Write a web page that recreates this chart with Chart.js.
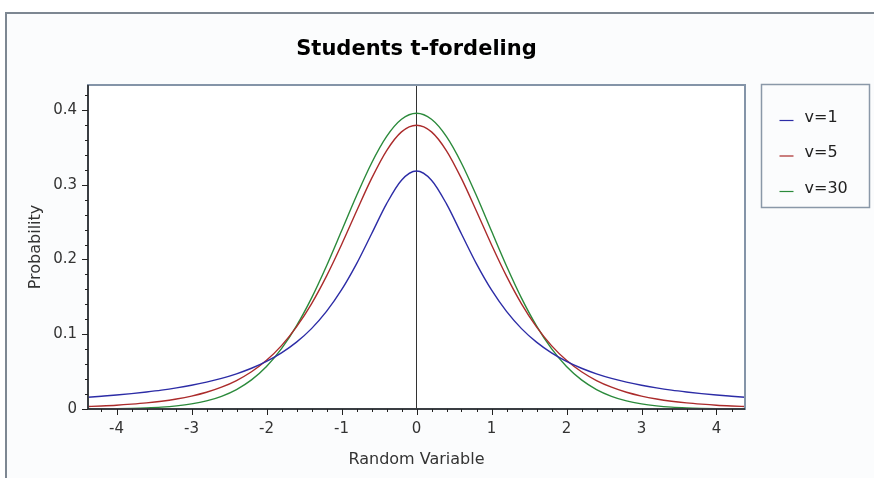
<!DOCTYPE html>
<html>
<head>
<meta charset="utf-8">
<script src="https://cdn.jsdelivr.net/npm/chart.js@4"></script>
<style>
  html, body { margin: 0; padding: 0; background: #fff; }
  #frame { position: absolute; left: 5px; top: 12px; width: 869px; height: 466px; box-sizing: border-box;
           border-top: 2px solid #7d8792; border-left: 2px solid #7d8792; background: #fbfcfd; }
  #chart { position: absolute; left: 0; top: 0; }
</style>
</head>
<body>
<div id="frame"></div>
<canvas id="chart" width="874" height="478"></canvas>
<script>
// values
const xValues = [-4.4, -4.2, -4.0, -3.8, -3.6, -3.4, -3.2, -3.0, -2.8, -2.6, -2.4, -2.2, -2.0, -1.8, -1.6, -1.4, -1.2, -1.0, -0.8, -0.6, -0.4, -0.2, 0,
                 0.2, 0.4, 0.6, 0.8, 1.0, 1.2, 1.4, 1.6, 1.8, 2.0, 2.2, 2.4, 2.6, 2.8, 3.0, 3.2, 3.4, 3.6, 3.8, 4.0, 4.2, 4.4];
const v1 = [0.0156, 0.0171, 0.0187, 0.0206, 0.0228, 0.0253, 0.0283, 0.0318, 0.0360, 0.0410, 0.0471, 0.0545, 0.0637, 0.0751, 0.0894, 0.1075, 0.1305, 0.1592, 0.1941, 0.2341, 0.2744, 0.3061, 0.3183,
            0.3061, 0.2744, 0.2341, 0.1941, 0.1592, 0.1305, 0.1075, 0.0894, 0.0751, 0.0637, 0.0545, 0.0471, 0.0410, 0.0360, 0.0318, 0.0283, 0.0253, 0.0228, 0.0206, 0.0187, 0.0171, 0.0156];
const v5 = [0.0033, 0.0041, 0.0051, 0.0065, 0.0082, 0.0104, 0.0134, 0.0173, 0.0224, 0.0292, 0.0381, 0.0498, 0.0651, 0.0848, 0.1098, 0.1407, 0.1777, 0.2197, 0.2645, 0.3081, 0.3454, 0.3707, 0.3796,
            0.3707, 0.3454, 0.3081, 0.2645, 0.2197, 0.1777, 0.1407, 0.1098, 0.0848, 0.0651, 0.0498, 0.0381, 0.0292, 0.0224, 0.0173, 0.0134, 0.0104, 0.0082, 0.0065, 0.0051, 0.0041, 0.0033];
const v30 = [0.0002, 0.0003, 0.0005, 0.0009, 0.0015, 0.0025, 0.0042, 0.0068, 0.0108, 0.0170, 0.0260, 0.0389, 0.0568, 0.0807, 0.1112, 0.1483, 0.1913, 0.2380, 0.2852, 0.3288, 0.3643, 0.3875, 0.3956,
             0.3875, 0.3643, 0.3288, 0.2852, 0.2380, 0.1913, 0.1483, 0.1112, 0.0807, 0.0568, 0.0389, 0.0260, 0.0170, 0.0108, 0.0068, 0.0042, 0.0025, 0.0015, 0.0009, 0.0005, 0.0003, 0.0002];
const seriesLabels = ['v=1', 'v=5', 'v=30'];
const seriesColors = ['#2c2ca6', '#ab2b2b', '#2b8a3b'];
const xTicks = [-4, -3, -2, -1, 0, 1, 2, 3, 4];
const yTicks = [0, 0.1, 0.2, 0.3, 0.4];

const FONT = 'DejaVu Sans';

function toPoints(ys) {
    return xValues.map((x, i) => ({ x: x, y: ys[i] }));
}

// white plot background
const plotBackground = {
    id: 'plotBackground',
    beforeDraw(chart) {
        const { ctx, chartArea: a } = chart;
        ctx.save();
        ctx.fillStyle = '#fff';
        ctx.fillRect(a.left, a.top, a.right - a.left, a.bottom - a.top);
        ctx.restore();
    }
};

// frame, tick marks and legend box
const decorations = {
    id: 'decorations',
    afterDraw(chart) {
        const { ctx, chartArea: a } = chart;
        const xs = chart.scales.x, ys = chart.scales.y;
        ctx.save();

        ctx.strokeStyle = '#8494a8';
        ctx.lineWidth = 2;
        ctx.strokeRect(a.left, a.top, a.right - a.left, a.bottom - a.top);

        ctx.strokeStyle = '#222';
        ctx.lineWidth = 1.5;
        ctx.beginPath();
        ctx.moveTo(a.left, a.top);
        ctx.lineTo(a.left, a.bottom);
        ctx.lineTo(a.right, a.bottom);
        ctx.stroke();

        // x ticks, minor every 0.2
        ctx.lineWidth = 1;
        ctx.beginPath();
        for (let i = -21; i <= 21; i++) {
            const px = Math.round(xs.getPixelForValue(i / 5)) + 0.5;
            const len = i % 5 === 0 ? 6 : 3;
            ctx.moveTo(px, a.bottom);
            ctx.lineTo(px, a.bottom + len);
        }
        // y ticks, minor every 0.02
        for (let i = 0; i <= 21; i++) {
            const py = Math.round(ys.getPixelForValue(i / 50)) + 0.5;
            const len = i % 5 === 0 ? 6 : 3;
            ctx.moveTo(a.left, py);
            ctx.lineTo(a.left - len, py);
        }
        ctx.stroke();

        // legend
        const lx = a.right + 16.5, ly = a.top - 0.5;
        ctx.strokeStyle = '#8a98a8';
        ctx.lineWidth = 1.5;
        ctx.strokeRect(lx, ly, 108, 123);
        ctx.font = '16px "' + FONT + '"';
        ctx.textBaseline = 'alphabetic';
        ctx.textAlign = 'left';
        chart.data.datasets.forEach((ds, i) => {
            const y = ly + 36 + i * 35.5;
            ctx.strokeStyle = ds.borderColor;
            ctx.lineWidth = 1.2;
            ctx.beginPath();
            ctx.moveTo(lx + 18, y);
            ctx.lineTo(lx + 32, y);
            ctx.stroke();
            ctx.fillStyle = '#222';
            ctx.fillText(ds.label, lx + 43, y + 1);
        });
        ctx.restore();
    }
};

new Chart(document.getElementById('chart'), {
    type: 'line',
    data: {
        datasets: [v1, v5, v30].map((vals, i) => ({
            label: seriesLabels[i],
            data: toPoints(vals),
            borderColor: seriesColors[i],
            borderWidth: 1.4,
            pointRadius: 0,
            fill: false,
            cubicInterpolationMode: 'monotone'
        }))
    },
    options: {
        responsive: false,
        animation: false,
        layout: { padding: { left: 0, right: 129, top: 0, bottom: 0 } },
        plugins: {
            legend: { display: false },
            tooltip: { enabled: false },
            title: {
                display: true,
                text: 'Students t-fordeling',
                fullSize: false,
                color: '#000',
                font: { family: FONT, size: 21, weight: 'bold' },
                padding: { top: 37, bottom: 22.8 }
            }
        },
        scales: {
            x: {
                type: 'linear',
                min: -4.38,
                max: 4.38,
                afterBuildTicks: s => { s.ticks = xTicks.map(v => ({ value: v })); },
                afterFit: s => { s.height = 69; },
                ticks: {
                    font: { family: FONT, size: 15 },
                    color: '#333',
                    padding: 11,
                    maxRotation: 0,
                    autoSkip: false
                },
                grid: {
                    drawTicks: false,
                    lineWidth: 1,
                    color: c => (c.tick && c.tick.value === 0) ? '#333' : 'rgba(0,0,0,0)'
                },
                border: { display: false },
                title: {
                    display: true,
                    text: 'Random Variable',
                    color: '#333',
                    font: { family: FONT, size: 16 },
                    padding: { top: 0, bottom: 9 }
                }
            },
            y: {
                type: 'linear',
                min: 0,
                max: 0.4334,
                afterBuildTicks: s => { s.ticks = yTicks.map(v => ({ value: v })); },
                afterFit: s => { s.width = 88; },
                ticks: {
                    font: { family: FONT, size: 15 },
                    color: '#333',
                    padding: 11,
                    callback: v => v === 0 ? '0' : v.toFixed(1)
                },
                grid: { display: false, drawTicks: false },
                border: { display: false },
                title: {
                    display: true,
                    text: 'Probability',
                    color: '#333',
                    font: { family: FONT, size: 16 },
                    padding: { top: 26, bottom: 0 }
                }
            }
        }
    },
    plugins: [plotBackground, decorations]
});
</script>
</body>
</html>
